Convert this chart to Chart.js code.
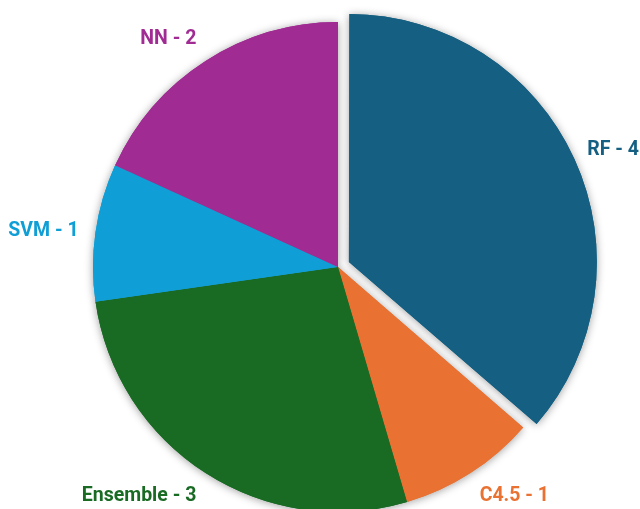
<!DOCTYPE html>
<html>
<head>
<meta charset="utf-8">
<script src="https://cdn.jsdelivr.net/npm/chart.js@4"></script>
<style>
  html, body { margin: 0; padding: 0; background: #ffffff; }
  #wrap { width: 640px; height: 509px; }
</style>
</head>
<body>
<div id="wrap"><canvas id="c" width="640" height="509"></canvas></div>
<script>
const categories = ["RF", "C4.5", "Ensemble", "SVM", "NN"];
const counts = [4, 1, 3, 1, 2];
const sliceColors = ["#156082", "#E97132", "#196B24", "#0F9ED5", "#A02B93"];
// Chart.js moves an arc by offset/4 pixels
const explode = [48, 0, 0, 0, 0];

const shadowPlugin = {
  id: 'shadowPass',
  beforeDatasetsDraw(chart) {
    const ctx = chart.ctx;
    const meta = chart.getDatasetMeta(0);
    ctx.save();
    ctx.shadowColor = 'rgba(0,0,0,0.38)';
    ctx.shadowBlur = 8;
    ctx.shadowOffsetX = 0;
    ctx.shadowOffsetY = 1;
    meta.data.forEach(a => a.draw(ctx));
    ctx.restore();
  }
};

function shiftFactor(d) {
  const a = Math.max(0, Math.min(1, (Math.abs(d) - 0.3) / 0.24));
  return Math.sign(d) * a;
}

const labelPlugin = {
  id: 'outLabels',
  afterDatasetsDraw(chart) {
    const ctx = chart.ctx;
    const meta = chart.getDatasetMeta(0);
    ctx.save();
    ctx.font = 'bold 19.5px Roboto';
    ctx.textAlign = 'center';
    ctx.textBaseline = 'middle';
    meta.data.forEach((arc, i) => {
      const p = arc.getProps(['x', 'y', 'startAngle', 'endAngle', 'outerRadius'], true);
      const mid = (p.startAngle + p.endAngle) / 2;
      const dx = Math.cos(mid), dy = Math.sin(mid);
      const off = explode[i] / 4;
      const ax = p.x + dx * (off + p.outerRadius);
      const ay = p.y + dy * (off + p.outerRadius);
      const text = categories[i] + ' - ' + counts[i];
      const hw = ctx.measureText(text).width / 2;
      const hh = 8;
      const gap = 17;
      const tx = ax + dx * gap + shiftFactor(dx) * hw;
      const ty = ay + dy * gap + shiftFactor(dy) * hh;
      ctx.fillStyle = sliceColors[i];
      ctx.fillText(text, tx, ty + 1);
    });
    ctx.restore();
  }
};

new Chart(document.getElementById('c'), {
  type: 'pie',
  data: {
    labels: categories,
    datasets: [{
      data: counts,
      backgroundColor: sliceColors,
      borderWidth: 0,
      offset: explode,
      hoverOffset: 0,
      clip: false
    }]
  },
  options: {
    responsive: false,
    animation: false,
    radius: 245,
    layout: { padding: { left: 36, right: 0, top: 25, bottom: 0 } },
    plugins: {
      legend: { display: false },
      tooltip: { enabled: false }
    },
    events: []
  },
  plugins: [shadowPlugin, labelPlugin]
});
</script>
</body>
</html>
